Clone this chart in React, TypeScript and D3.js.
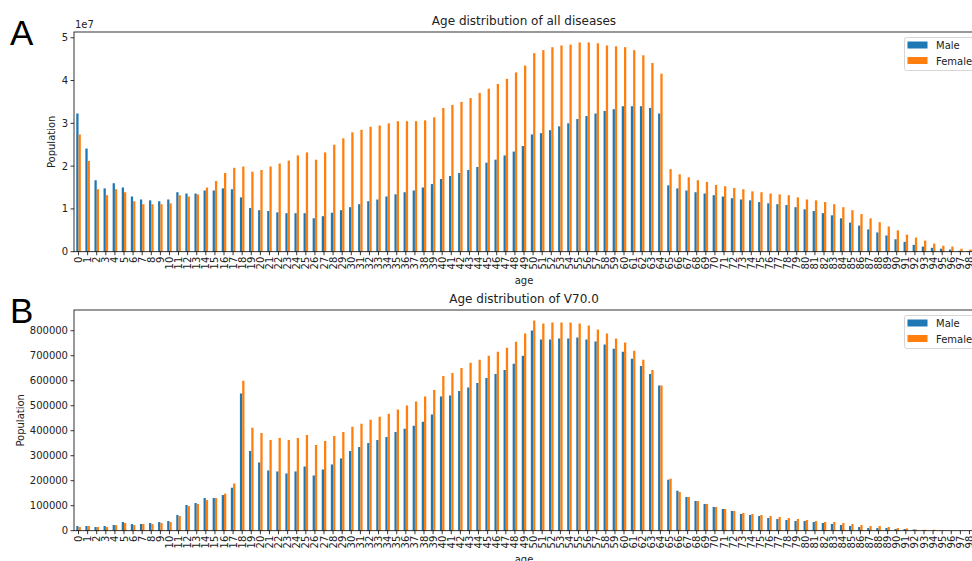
import * as d3 from 'd3';
import React from 'react';

// ages 0..98 are the categories on both panels
const ages = d3.range(0, 99).map(String);
const seriesNames = ['Male', 'Female'];
const colors = ['#1f77b4', '#ff7f0e'];

// Panel A: all diseases
const allMale = [
  32.3e6, 24.1e6, 16.7e6, 14.8e6, 16.0e6, 15.0e6, 12.9e6, 12.2e6, 12.0e6, 11.8e6,
  12.2e6, 13.9e6, 13.6e6, 13.6e6, 14.3e6, 14.3e6, 14.8e6, 14.6e6, 12.7e6, 10.2e6,
  9.7e6, 9.5e6, 9.2e6, 9.0e6, 9.0e6, 9.0e6, 7.8e6, 8.3e6, 9.1e6, 9.7e6,
  10.4e6, 11.1e6, 11.8e6, 12.2e6, 12.9e6, 13.4e6, 13.9e6, 14.3e6, 15.0e6, 15.8e6,
  17.0e6, 17.7e6, 18.4e6, 19.1e6, 19.8e6, 20.8e6, 21.5e6, 22.5e6, 23.4e6, 24.7e6,
  27.4e6, 27.7e6, 28.4e6, 29.3e6, 30.0e6, 31.0e6, 31.7e6, 32.3e6, 32.9e6, 33.3e6,
  34.0e6, 34.0e6, 34.0e6, 33.6e6, 32.3e6, 15.5e6, 14.8e6, 14.3e6, 13.9e6, 13.6e6,
  13.2e6, 12.9e6, 12.5e6, 12.2e6, 12.0e6, 11.6e6, 11.3e6, 11.1e6, 10.9e6, 10.4e6,
  9.9e6, 9.5e6, 9.0e6, 8.5e6, 7.8e6, 6.8e6, 6.1e6, 5.2e6, 4.5e6, 3.8e6,
  2.9e6, 2.3e6, 1.6e6, 1.2e6, 0.9e6, 0.7e6, 0.5e6, 0.2e6, 0.15e6,
];
const allFemale = [
  27.4e6, 21.2e6, 14.6e6, 13.2e6, 14.6e6, 13.9e6, 11.8e6, 11.1e6, 11.1e6, 11.1e6,
  11.3e6, 13.2e6, 12.9e6, 13.4e6, 15.0e6, 16.5e6, 18.4e6, 19.6e6, 19.9e6, 18.7e6,
  19.1e6, 19.9e6, 20.6e6, 21.3e6, 22.5e6, 23.2e6, 21.5e6, 23.2e6, 25.0e6, 26.5e6,
  27.9e6, 28.5e6, 29.2e6, 29.5e6, 30.0e6, 30.5e6, 30.5e6, 30.5e6, 30.7e6, 31.4e6,
  33.6e6, 34.3e6, 35.0e6, 35.9e6, 37.1e6, 38.1e6, 39.2e6, 40.4e6, 41.9e6, 43.5e6,
  46.4e6, 47.1e6, 47.8e6, 48.2e6, 48.4e6, 48.9e6, 48.9e6, 48.7e6, 48.2e6, 48.0e6,
  47.8e6, 47.1e6, 45.9e6, 44.1e6, 41.6e6, 19.3e6, 18.1e6, 17.4e6, 16.7e6, 16.3e6,
  15.6e6, 15.3e6, 14.9e6, 14.6e6, 14.1e6, 13.9e6, 13.6e6, 13.4e6, 13.2e6, 12.7e6,
  12.2e6, 12.0e6, 11.6e6, 11.1e6, 10.4e6, 9.7e6, 8.8e6, 7.8e6, 6.9e6, 5.9e6,
  5.0e6, 4.0e6, 3.3e6, 2.6e6, 1.9e6, 1.4e6, 1.2e6, 0.7e6, 0.5e6,
];

// Panel B: V70.0
const v70Male = [
  18700, 18700, 14700, 18700, 22700, 34700, 26700, 26700, 30700, 34700,
  38700, 62700, 102700, 110700, 130700, 130700, 142700, 172000, 549000, 318700,
  273000, 241000, 237000, 229000, 237000, 257000, 221000, 245000, 265000, 289000,
  318700, 334700, 350700, 362700, 374700, 394700, 408000, 420000, 436000, 465000,
  537000, 541000, 559000, 573000, 591000, 611000, 627000, 643000, 668000, 700000,
  801000, 765000, 765000, 769000, 769000, 773000, 765000, 757000, 745000, 728000,
  716000, 688000, 659000, 627000, 581000, 204000, 160000, 135000, 119000, 107000,
  95000, 87000, 79000, 66700, 62700, 58700, 50700, 46700, 42700, 38700,
  38700, 34700, 30700, 26700, 22700, 18700, 14700, 10700, 10700, 10700,
  6700, 6700, 5000, 2500, 1000, 500, 400, 300, 200,
];
const v70Female = [
  14700, 18700, 14700, 14700, 22700, 30700, 22700, 26700, 26700, 30700,
  34700, 58700, 98700, 106700, 122700, 130700, 148000, 189000, 600000, 412000,
  391000, 363000, 371000, 363000, 371000, 383000, 343000, 359000, 379000, 395000,
  416000, 428000, 444000, 456000, 468000, 485000, 501000, 517000, 537000, 563000,
  619000, 631000, 651000, 672000, 684000, 700000, 716000, 732000, 756000, 789000,
  841000, 829000, 833000, 833000, 833000, 829000, 821000, 805000, 789000, 769000,
  753000, 720000, 684000, 643000, 581000, 208000, 155000, 135000, 119000, 107000,
  95000, 87000, 79000, 70700, 66700, 62700, 58700, 54700, 50700, 46700,
  42700, 38700, 34700, 34700, 30700, 26700, 22700, 18700, 18700, 14700,
  10700, 9000, 5000, 4000, 4000, 1000, 500, 300, 200,
];

const allTicks = [0, 1e7, 2e7, 3e7, 4e7, 5e7];
const v70Ticks = [0, 100000, 200000, 300000, 400000, 500000, 600000, 700000, 800000];

const FONT = 'DejaVu Sans, sans-serif';
const INK = '#222';

type PanelProps = {
  letter: string;
  title: string;
  male: number[];
  female: number[];
  ticks: number[];
  tickFormat: (v: number) => string;
  offsetText?: string;
  top: number;
  bottom: number;
  ylabelX: number;
};

function Panel(p: PanelProps) {
  const left = 74;
  const right = 974;

  // outer band per age, inner band per sex
  const x0 = d3.scaleBand<string>().domain(ages).range([left, right])
    .paddingInner(0.5).paddingOuter(0.25);
  const x1 = d3.scaleBand<string>().domain(seriesNames).range([0, x0.bandwidth()]);
  const ymax = (d3.max([...p.male, ...p.female]) as number) * 1.05;
  const y = d3.scaleLinear().domain([0, ymax]).range([p.bottom, p.top]);

  const series = [p.male, p.female];
  const midX = (left + right) / 2;

  return (
    <g>
      <text x={10} y={p.top + 13} fontFamily="Liberation Sans, Arial, sans-serif"
        fontSize={35} fill="#000">{p.letter}</text>
      <text x={midX} y={p.top - 7} textAnchor="middle" fontFamily={FONT} fontSize={12} fill={INK}>
        {p.title}
      </text>

      {series.map((vals, si) => (
        <g key={si} fill={colors[si]}>
          {vals.map((v, i) => (
            <rect key={i}
              x={(x0(ages[i]) as number) + (x1(seriesNames[si]) as number)}
              y={y(v)}
              width={x1.bandwidth()}
              height={p.bottom - y(v)} />
          ))}
        </g>
      ))}

      {/* frame */}
      <rect x={left} y={p.top} width={right - left} height={p.bottom - p.top}
        fill="none" stroke="#000" strokeWidth={0.8} />

      {/* y axis */}
      {p.ticks.map(t => (
        <g key={t}>
          <line x1={left - 3.5} x2={left} y1={y(t)} y2={y(t)} stroke="#000" strokeWidth={0.8} />
          <text x={left - 6} y={y(t)} dy="0.35em" textAnchor="end" fontFamily={FONT} fontSize={10} fill={INK}>
            {p.tickFormat(t)}
          </text>
        </g>
      ))}
      {p.offsetText && (
        <text x={left + 1} y={p.top - 4} fontFamily={FONT} fontSize={10} fill={INK}>{p.offsetText}</text>
      )}
      <text transform={`translate(${p.ylabelX},${(p.top + p.bottom) / 2}) rotate(-90)`}
        textAnchor="middle" fontFamily={FONT} fontSize={10} fill={INK}>Population</text>

      {/* x axis */}
      {ages.map(a => {
        const cx = (x0(a) as number) + x0.bandwidth() / 2;
        return (
          <g key={a}>
            <line x1={cx} x2={cx} y1={p.bottom} y2={p.bottom + 3.5} stroke="#000" strokeWidth={0.8} />
            <text transform={`translate(${cx + 3.5},${p.bottom + 5}) rotate(-90)`}
              textAnchor="end" fontFamily={FONT} fontSize={10} fill={INK}>{a}</text>
          </g>
        );
      })}
      <text x={midX} y={p.bottom + 32} textAnchor="middle" fontFamily={FONT} fontSize={10} fill={INK}>age</text>

      {/* legend */}
      <g transform={`translate(904.5,${p.top + 5.5})`}>
        <rect x={0} y={0} width={80} height={33} rx={2} fill="#fff" fillOpacity={0.8}
          stroke="#ccc" strokeWidth={0.8} />
        {seriesNames.map((s, si) => (
          <g key={s} transform={`translate(0,${si * 15.5})`}>
            <rect x={3} y={4} width={20} height={7} fill={colors[si]} />
            <text x={31.5} y={11.5} fontFamily={FONT} fontSize={10} fill={INK}>{s}</text>
          </g>
        ))}
      </g>
    </g>
  );
}

export default function App() {
  return (
    <svg width={972} height={561} style={{ position: 'absolute', left: 0, top: 0, background: '#fff' }}>
      <Panel letter="A" title="Age distribution of all diseases"
        male={allMale} female={allFemale} ticks={allTicks}
        tickFormat={v => String(v / 1e7)} offsetText="1e7"
        top={32} bottom={251.7} ylabelX={55} />
      <Panel letter="B" title="Age distribution of V70.0"
        male={v70Male} female={v70Female} ticks={v70Ticks}
        tickFormat={v => String(v)}
        top={310} bottom={530.7} ylabelX={24} />
    </svg>
  );
}
